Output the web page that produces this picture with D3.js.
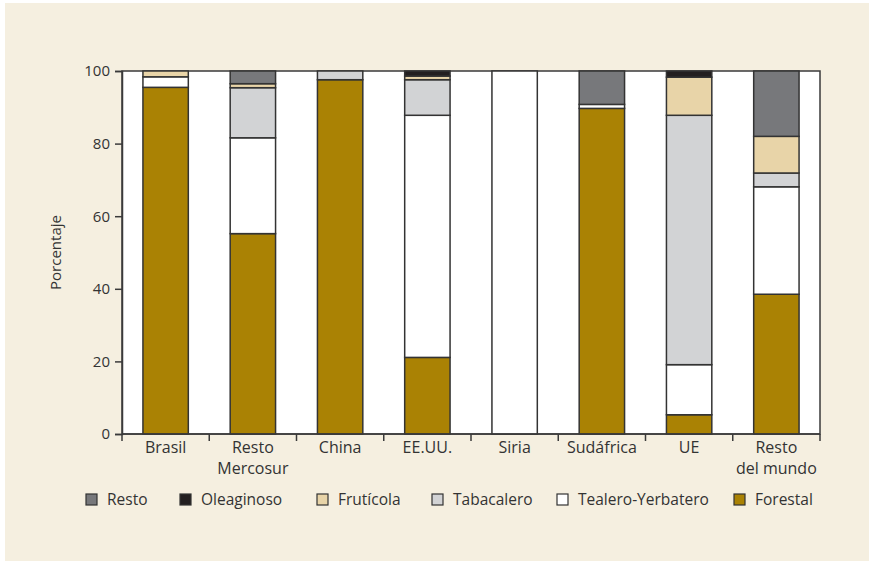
<!DOCTYPE html>
<html>
<head>
<meta charset="utf-8">
<script src="https://cdn.jsdelivr.net/npm/d3@7"></script>
<style>
  body { margin: 0; background: #fff; }
  svg text { font-family: "Open Sans", sans-serif; fill: #333; }
</style>
</head>
<body>
<svg id="chart" width="869" height="563"></svg>
<script>
// categories (x axis), "\n" splits into two lines
const categories = ["Brasil", "Resto\nMercosur", "China", "EE.UU.", "Siria", "Sudáfrica", "UE", "Resto\ndel mundo"];

// stacked series, bottom to top (percent)
const forestal   = [95.5, 55.2, 97.6, 21.1, 0,   89.7, 5.3,  38.5];
const tealero    = [2.9,  26.4, 0,    66.7, 100, 1.1,  13.8, 29.6];
const tabacalero = [0,    13.8, 2.4,  9.8,  0,   0,    68.7, 3.8];
const fruticola  = [1.6,  1.1,  0,    1.0,  0,   0,    10.5, 10.1];
const oleaginoso = [0,    0,    0,    1.4,  0,   0,    1.7,  0];
const resto      = [0,    3.5,  0,    0,    0,   9.2,  0,    18.0];

const yTicks = [0, 20, 40, 60, 80, 100];

const seriesNames = ["Forestal", "Tealero-Yerbatero", "Tabacalero", "Frutícola", "Oleaginoso", "Resto"];
const seriesValues = [forestal, tealero, tabacalero, fruticola, oleaginoso, resto];
const colors = {
  "Forestal": "#aa8204",
  "Tealero-Yerbatero": "#ffffff",
  "Tabacalero": "#d2d3d5",
  "Frutícola": "#e8d4a8",
  "Oleaginoso": "#231f20",
  "Resto": "#77787b"
};
// legend order is reversed (top of stack first)
const legendOrder = ["Resto", "Oleaginoso", "Frutícola", "Tabacalero", "Tealero-Yerbatero", "Forestal"];
const legendX = [86, 180, 317, 432, 557, 734];

const svg = d3.select("#chart");
const W = 869, H = 563;
const m = { left: 122, right: 49, top: 71, bottom: 129 };

svg.append("rect")
  .attr("x", 5).attr("y", 3)
  .attr("width", W - 5).attr("height", H - 5)
  .attr("fill", "#f5efe0");

// build table for stack
const table = categories.map((c, i) => {
  const row = { cat: c };
  seriesNames.forEach((s, j) => row[s] = seriesValues[j][i]);
  return row;
});
const stacked = d3.stack().keys(seriesNames)(table);

const x = d3.scaleBand()
  .domain(categories)
  .range([m.left, W - m.right])
  .paddingInner(0.48)
  .paddingOuter(0.24);

const y = d3.scaleLinear()
  .domain([0, 100])
  .range([H - m.bottom, m.top]);

// plot area
svg.append("rect")
  .attr("x", m.left).attr("y", m.top)
  .attr("width", W - m.right - m.left)
  .attr("height", H - m.bottom - m.top)
  .attr("fill", "#fff")
  .attr("stroke", "#3a3a3a")
  .attr("stroke-width", 1.5);

// bars
svg.append("g").selectAll("g")
  .data(stacked)
  .join("g")
  .attr("fill", d => colors[d.key])
  .selectAll("rect")
  .data(d => d.filter(p => p[1] - p[0] > 0))
  .join("rect")
  .attr("x", d => x(d.data.cat))
  .attr("width", x.bandwidth())
  .attr("y", d => y(d[1]))
  .attr("height", d => y(d[0]) - y(d[1]))
  .attr("stroke", "#333")
  .attr("stroke-width", 1.5);

// y axis
const yAxis = svg.append("g")
  .attr("transform", `translate(${m.left},0)`)
  .call(d3.axisLeft(y).tickValues(yTicks).tickSize(7).tickPadding(5));
yAxis.select(".domain").attr("stroke", "#3a3a3a").attr("stroke-width", 1.5);
yAxis.selectAll(".tick line").attr("stroke", "#3a3a3a").attr("stroke-width", 1.5);
yAxis.selectAll(".tick text")
  .style("font-family", "'Open Sans', sans-serif")
  .style("font-size", "15px")
  .attr("fill", "#333");

// x axis: ticks at band boundaries
const bottomY = y(0);
const step = x.step();
const boundaries = d3.range(categories.length + 1).map(i => m.left + i * step);
svg.append("line")
  .attr("x1", m.left).attr("x2", W - m.right)
  .attr("y1", bottomY).attr("y2", bottomY)
  .attr("stroke", "#3a3a3a").attr("stroke-width", 1.5);
svg.append("g").selectAll("line")
  .data(boundaries)
  .join("line")
  .attr("x1", d => d).attr("x2", d => d)
  .attr("y1", bottomY).attr("y2", bottomY + 7)
  .attr("stroke", "#3a3a3a").attr("stroke-width", 1.5);

svg.append("g").selectAll("text")
  .data(categories)
  .join("text")
  .attr("x", d => x(d) + x.bandwidth() / 2)
  .attr("y", bottomY + 19)
  .attr("text-anchor", "middle")
  .style("font-size", "16px")
  .selectAll("tspan")
  .data(d => d.split("\n"))
  .join("tspan")
  .attr("x", function () { return d3.select(this.parentNode).attr("x"); })
  .attr("dy", (d, i) => i === 0 ? 0 : 21)
  .text(d => d);

// y label
svg.append("text")
  .attr("transform", `translate(61,${(m.top + H - m.bottom) / 2}) rotate(-90)`)
  .attr("text-anchor", "middle")
  .style("font-size", "15px")
  .text("Porcentaje");

// legend
const legend = svg.append("g").selectAll("g")
  .data(legendOrder)
  .join("g")
  .attr("transform", (d, i) => `translate(${legendX[i]},494)`);
legend.append("rect")
  .attr("width", 11).attr("height", 11)
  .attr("fill", d => colors[d])
  .attr("stroke", "#333").attr("stroke-width", 1.2);
legend.append("text")
  .attr("x", 21).attr("y", 11)
  .style("font-size", "15.5px")
  .text(d => d);
</script>
</body>
</html>
